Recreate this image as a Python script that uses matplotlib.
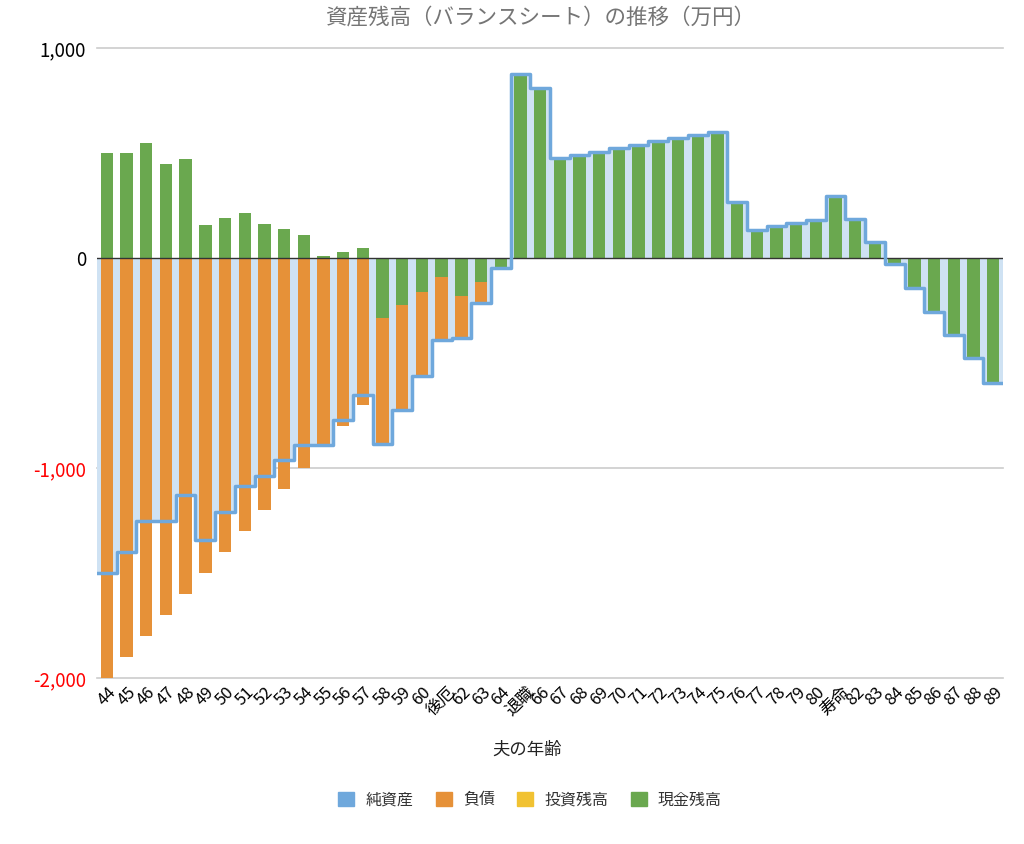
import numpy as np
import matplotlib
matplotlib.use("Agg")
import matplotlib.pyplot as plt
from matplotlib.patches import Patch

plt.rcParams['font.family'] = ['Noto Sans CJK JP', 'DejaVu Sans']

# DATA
ages = list(range(44, 90))
age_labels = [str(a) for a in ages]
age_labels[ages.index(61)] = "後厄"
age_labels[ages.index(65)] = "退職"
age_labels[ages.index(81)] = "寿命"

liability = [-2000, -1900, -1800, -1700, -1600, -1500, -1400, -1300, -1200, -1100,
             -1000, -900, -800, -700, -600, -500, -400, -300, -200, -100,
             0, 0, 0, 0, 0, 0, 0, 0, 0, 0, 0, 0, 0, 0, 0, 0, 0, 0, 0, 0,
             0, 0, 0, 0, 0, 0]
investment = [0] * len(ages)
cash = [500, 500, 550, 450, 470, 155, 190, 215, 164, 137, 111, 8, 27, 46,
        -288, -224, -161, -92, -180, -114, -48,
        874, 809, 477, 490, 504, 523, 539, 556, 572, 587, 602, 269, 135, 151,
        167, 183, 297, 186, 75,
        -29, -145, -256, -367, -478, -593]

c_net = '#6fa8dc'
c_fill = '#cfe2f3'
c_liab = '#e69138'
c_inv = '#f1c232'
c_cash = '#6aa84f'

liability = np.array(liability)
investment = np.array(investment)
cash = np.array(cash)
net = liability + investment + cash

fig = plt.figure(figsize=(10.24, 8.44), dpi=100)
ax = fig.add_axes([97 / 1024, 1 - 678 / 844, 906 / 1024, 630 / 844])

x = np.arange(len(ages))

# net asset as a step area from edge to edge
xe = np.column_stack([x - 0.5, x + 0.5]).ravel()
ye = np.repeat(net, 2)
ax.fill_between(xe, ye, 0, color=c_fill, lw=0, zorder=1)

# stacked bars: positives up from 0, negatives down from 0 (cash nearest zero)
w = 0.63
cash_pos = np.where(cash > 0, cash, 0)
cash_neg = np.where(cash < 0, cash, 0)
ax.bar(x, cash_pos, w, color=c_cash, zorder=2)
ax.bar(x, cash_neg, w, color=c_cash, zorder=2)
ax.bar(x, liability, w, bottom=cash_neg, color=c_liab, zorder=2)

ax.plot(xe, ye, color=c_net, lw=2.5, solid_joinstyle='round', zorder=4)

ax.axhline(0, color='#333333', lw=1, zorder=3)
for g in [1000, -1000, -2000]:
    ax.axhline(g, color='#cccccc', lw=1.2, zorder=0, clip_on=False)

ax.set_xlim(-0.5, len(ages) - 0.5)
ax.set_ylim(-2000, 1000)
for s in ax.spines.values():
    s.set_visible(False)

ax.set_yticks([1000, 0, -1000, -2000])
ax.set_yticklabels(['1,000', '0', '-1,000', '-2,000'], fontsize=13.5)
for t, v in zip(ax.get_yticklabels(), [1000, 0, -1000, -2000]):
    t.set_color('red' if v < 0 else 'black')
ax.tick_params(axis='y', length=0, pad=8)

ax.set_xticks(x)
ax.set_xticklabels(age_labels, rotation=45, fontsize=12, ha='center')
ax.tick_params(axis='x', length=0, pad=4)

fig.text(527 / 1024, 1 - 750 / 844, "夫の年齢", ha='center', va='center',
         fontsize=12.5, color='#222222')
fig.text(540 / 1024, 1 - 18 / 844, "資産残高（バランスシート）の推移（万円）",
         ha='center', va='center', fontsize=15.5, color='#757575')

handles = [Patch(color=c_net), Patch(color=c_liab), Patch(color=c_inv), Patch(color=c_cash)]
fig.legend(handles, ["純資産", "負債", "投資残高", "現金残高"], loc='center',
           bbox_to_anchor=(530 / 1024, 1 - 800 / 844), ncol=4, frameon=False,
           fontsize=11.5, handlelength=1.0, handleheight=1.0, handletextpad=0.7,
           columnspacing=1.4, labelcolor='#333333')

fig.savefig("out.png", dpi=100)
